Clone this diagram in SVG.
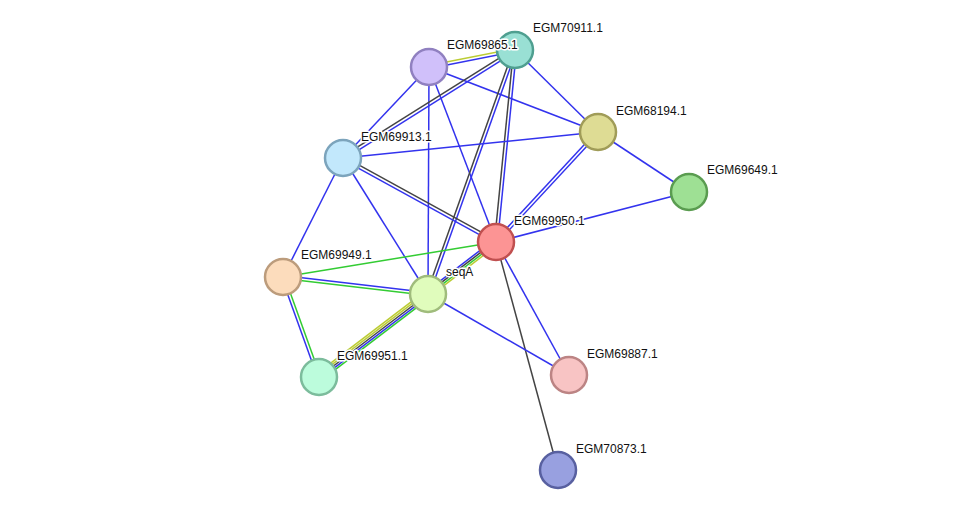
<svg xmlns="http://www.w3.org/2000/svg" width="976" height="516" viewBox="0 0 976 516">
<style>
line{stroke-width:1.5}
.b{stroke:#3333ee}.k{stroke:#444}.g{stroke:#33cc33}.y{stroke:#bbcc33}
circle{stroke-width:2.5}
text{font-family:"Liberation Sans",Arial,sans-serif;font-size:12px;fill:#111;paint-order:stroke;stroke:#fff;stroke-width:3px;stroke-linejoin:round}
</style>
<rect width="976" height="516" fill="#fff"/>
<g id="edges">
<line class="y" x1="514.7" y1="48.5" x2="428.7" y2="65.5"/><line class="b" x1="515.3" y1="51.5" x2="429.3" y2="68.5"/>
<line class="b" x1="429" y1="67" x2="343" y2="158"/>
<line class="b" x1="429" y1="67" x2="428" y2="294"/>
<line class="b" x1="429" y1="67" x2="496" y2="242"/>
<line class="b" x1="429" y1="67" x2="598" y2="132"/>
<line class="k" x1="514.2" y1="48.7" x2="342.2" y2="156.7"/><line class="b" x1="515.8" y1="51.3" x2="343.8" y2="159.3"/>
<line class="b" x1="515" y1="50" x2="598" y2="132"/>
<line class="k" x1="513.6" y1="49.5" x2="426.6" y2="293.5"/><line class="b" x1="516.4" y1="50.5" x2="429.4" y2="294.5"/>
<line class="k" x1="513.5" y1="49.85" x2="494.5" y2="241.85"/><line class="b" x1="516.5" y1="50.15" x2="497.5" y2="242.15"/>
<line class="b" x1="343" y1="158" x2="598" y2="132"/>
<line class="k" x1="343.7" y1="156.7" x2="496.7" y2="240.7"/><line class="b" x1="342.3" y1="159.3" x2="495.3" y2="243.3"/>
<line class="b" x1="343" y1="158" x2="283" y2="277"/>
<line class="b" x1="343" y1="158" x2="428" y2="294"/>
<line class="b" x1="596.9" y1="131" x2="494.9" y2="241"/><line class="b" x1="599.1" y1="133" x2="497.1" y2="243"/>
<line class="b" x1="598" y1="132" x2="689" y2="192"/>
<line class="b" x1="689" y1="192" x2="496" y2="242"/>
<line class="g" x1="496" y1="242" x2="283" y2="277"/>
<line class="y" x1="497.8" y1="244.4" x2="429.8" y2="296.4"/><line class="g" x1="496.6" y1="242.8" x2="428.6" y2="294.8"/><line class="k" x1="495.4" y1="241.2" x2="427.4" y2="293.2"/><line class="b" x1="494.2" y1="239.6" x2="426.2" y2="291.6"/>
<line class="b" x1="496" y1="242" x2="569" y2="375"/>
<line class="k" x1="496" y1="242" x2="558" y2="470"/>
<line class="b" x1="282.8" y1="275.5" x2="427.8" y2="292.5"/><line class="g" x1="283.2" y1="278.5" x2="428.2" y2="295.5"/>
<line class="b" x1="281.6" y1="277.5" x2="317.6" y2="377.5"/><line class="g" x1="284.4" y1="276.5" x2="320.4" y2="376.5"/>
<line class="y" x1="425.6" y1="290.8" x2="316.6" y2="373.8"/><line class="y" x1="426.8" y1="292.4" x2="317.8" y2="375.4"/><line class="k" x1="428" y1="294" x2="319" y2="377"/><line class="b" x1="429.2" y1="295.6" x2="320.2" y2="378.6"/><line class="g" x1="430.4" y1="297.2" x2="321.4" y2="380.2"/>
<line class="b" x1="428" y1="294" x2="569" y2="375"/>
</g>
<g id="n70911"><circle cx="515" cy="50" r="18" fill="#99e0d4" stroke="#4f9f90"/><text x="533" y="32">EGM70911.1</text></g>
<g id="n69865"><circle cx="429" cy="67" r="18" fill="#d0c0fa" stroke="#9080c0"/><text x="447" y="49">EGM69865.1</text></g>
<g id="n68194"><circle cx="598" cy="132" r="18" fill="#dedc94" stroke="#a09c58"/><text x="616" y="115">EGM68194.1</text></g>
<g id="n69913"><circle cx="343" cy="158" r="18" fill="#c2e8fc" stroke="#7ca4bc"/><text x="361" y="141">EGM69913.1</text></g>
<g id="n69649"><circle cx="689" cy="192" r="18" fill="#9ee094" stroke="#5a9c50"/><text x="707" y="174">EGM69649.1</text></g>
<g id="n69950"><circle cx="496" cy="242" r="18" fill="#fc9494" stroke="#c05050"/><text x="514" y="225">EGM69950.1</text></g>
<g id="n69949"><circle cx="283" cy="277" r="18" fill="#fcdcbc" stroke="#bc9c7c"/><text x="301" y="259">EGM69949.1</text></g>
<g id="nseqA"><circle cx="428" cy="294" r="18" fill="#e0fcbc" stroke="#a0bc7c"/><text x="446" y="276">seqA</text></g>
<g id="n69951"><circle cx="319" cy="377" r="18" fill="#bcfcdc" stroke="#7cbc9c"/><text x="337" y="360">EGM69951.1</text></g>
<g id="n69887"><circle cx="569" cy="375" r="18" fill="#f8c4c4" stroke="#bc8484"/><text x="587" y="358">EGM69887.1</text></g>
<g id="n70873"><circle cx="558" cy="470" r="18" fill="#98a0e0" stroke="#5860a0"/><text x="576" y="453">EGM70873.1</text></g>
</svg>
